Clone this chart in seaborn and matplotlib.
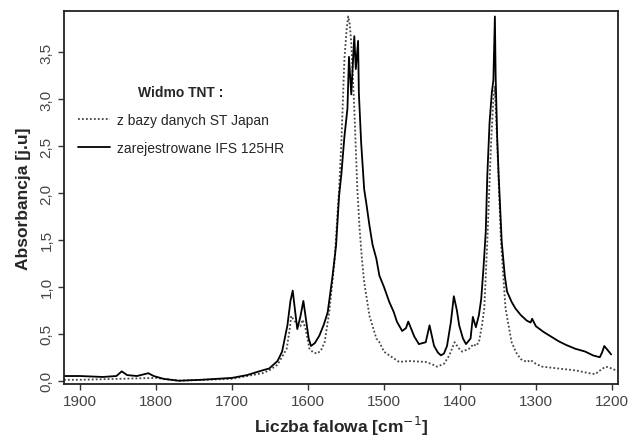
import pandas as pd
import numpy as np
from matplotlib import pyplot as plt
import seaborn as sns

# widmo zarejestrowane (IFS 125HR)
meas_x = [1921, 1900, 1870, 1852, 1845, 1838, 1825, 1815, 1810, 1803, 1790, 1770, 1740, 1700,
          1680, 1660, 1651, 1640, 1634, 1627, 1623, 1620, 1617, 1614, 1610, 1606, 1602, 1599,
          1596, 1591, 1585, 1579, 1574, 1568, 1563, 1559, 1556, 1552, 1548, 1546, 1543, 1539,
          1537, 1534, 1533, 1530, 1526, 1523, 1519, 1515, 1510, 1506, 1500, 1493, 1487, 1483,
          1476, 1471, 1468, 1464, 1460, 1454, 1445, 1440, 1434, 1429, 1425, 1421, 1417, 1412,
          1408, 1404, 1401, 1396, 1392, 1386, 1383, 1379, 1375, 1372, 1369, 1366, 1364, 1361,
          1358, 1356, 1354, 1353, 1351, 1349, 1345, 1341, 1338, 1332, 1327, 1320, 1312, 1307,
          1305, 1300, 1290, 1280, 1270, 1260, 1248, 1235, 1225, 1216, 1213, 1210, 1206, 1201]
meas_y = [0.05, 0.05, 0.04, 0.05, 0.10, 0.06, 0.05, 0.07, 0.08, 0.05, 0.02, 0.00, 0.01, 0.03,
          0.06, 0.11, 0.13, 0.21, 0.31, 0.59, 0.85, 0.96, 0.75, 0.55, 0.68, 0.85, 0.62, 0.45,
          0.37, 0.40, 0.48, 0.60, 0.73, 1.09, 1.44, 1.97, 2.20, 2.60, 2.90, 3.45, 3.05, 3.67,
          3.32, 3.62, 3.07, 2.54, 2.04, 1.88, 1.65, 1.45, 1.30, 1.12, 1.00, 0.84, 0.73, 0.63,
          0.53, 0.56, 0.63, 0.55, 0.47, 0.39, 0.41, 0.59, 0.37, 0.30, 0.27, 0.29, 0.37, 0.62,
          0.90, 0.75, 0.59, 0.45, 0.39, 0.45, 0.68, 0.57, 0.70, 0.87, 1.20, 1.59, 2.18, 2.75,
          3.07, 3.20, 3.88, 3.24, 2.60, 2.18, 1.48, 1.12, 0.95, 0.84, 0.77, 0.70, 0.64, 0.62,
          0.66, 0.58, 0.52, 0.47, 0.42, 0.38, 0.34, 0.31, 0.27, 0.25, 0.30, 0.37, 0.33, 0.28]

# widmo z bazy danych ST Japan
ref_x = [1921, 1900, 1850, 1800, 1770, 1700, 1660, 1651, 1640, 1628, 1624, 1622, 1618, 1614,
         1610, 1607, 1603, 1598, 1593, 1588, 1583, 1578, 1572, 1565, 1561, 1559, 1556, 1552,
         1549, 1547, 1545, 1543, 1539, 1535, 1532, 1529, 1526, 1519, 1510, 1506, 1500, 1493,
         1480, 1467, 1445, 1438, 1430, 1421, 1414, 1407, 1402, 1397, 1388, 1382, 1379, 1375,
         1371, 1368, 1364, 1359, 1356, 1354, 1351, 1346, 1340, 1332, 1326, 1320, 1312, 1307,
         1300, 1292, 1270, 1248, 1230, 1222, 1214, 1208, 1200, 1192]
ref_y = [0.01, 0.01, 0.02, 0.03, 0.00, 0.02, 0.08, 0.11, 0.17, 0.34, 0.55, 0.69, 0.64, 0.60,
         0.58, 0.65, 0.55, 0.34, 0.30, 0.29, 0.32, 0.41, 0.73, 1.27, 1.80, 2.04, 2.54, 3.43,
         3.75, 3.88, 3.80, 3.60, 2.90, 2.04, 1.62, 1.30, 1.05, 0.69, 0.45, 0.41, 0.31, 0.27,
         0.20, 0.21, 0.20, 0.18, 0.15, 0.18, 0.27, 0.41, 0.35, 0.31, 0.34, 0.39, 0.37, 0.41,
         0.59, 0.77, 1.48, 2.54, 3.00, 3.14, 2.54, 1.48, 0.77, 0.41, 0.30, 0.23, 0.20, 0.22,
         0.18, 0.15, 0.13, 0.11, 0.08, 0.07, 0.12, 0.15, 0.13, 0.10]

x_ticks = [1900, 1800, 1700, 1600, 1500, 1400, 1300, 1200]
y_ticks = [0.0, 0.5, 1.0, 1.5, 2.0, 2.5, 3.0, 3.5]

sns.set_style("ticks")
plt.rcParams['font.family'] = ['Liberation Sans', 'DejaVu Sans']

fig = plt.figure(figsize=(6.31, 4.39), dpi=100)
ax = fig.add_axes([0.1014, 0.123, 0.878, 0.850])

dfr = pd.DataFrame({'x': ref_x, 'y': ref_y})
dfm = pd.DataFrame({'x': meas_x, 'y': meas_y})
sns.lineplot(data=dfr, x='x', y='y', ax=ax, sort=False, color='#444444', lw=1.3,
             linestyle=(0, (1, 1.2)), label='z bazy danych ST Japan')
sns.lineplot(data=dfm, x='x', y='y', ax=ax, sort=False, color='black', lw=1.3,
             label='zarejestrowane IFS 125HR')

ax.set_xlim(1921, 1192)
ax.set_ylim(-0.035, 3.94)
ax.set_xticks(x_ticks)
ax.set_xticklabels([str(t) for t in x_ticks], fontsize=11, color='#444444')
ax.set_yticks(y_ticks)
ax.set_yticklabels([f'{t:.1f}'.replace('.', ',') for t in y_ticks], fontsize=11,
                   color='#444444', rotation=90, va='center')
ax.tick_params(length=4, width=1, color='#333333')
for s in ax.spines.values():
    s.set_linewidth(1.3)
    s.set_color('#222222')

ax.set_xlabel('Liczba falowa [cm$^{-1}$]', fontsize=12.5, fontweight='bold', labelpad=4)
ax.set_ylabel('Absorbancja [j.u]', fontsize=12.5, fontweight='bold', labelpad=6)

leg = ax.legend(loc='upper left', bbox_to_anchor=(0.015, 0.815), borderaxespad=0,
                frameon=False, fontsize=10, title='Widmo TNT :', handlelength=2.3,
                handletextpad=0.5, labelspacing=1.0)
leg.get_title().set_fontweight('bold')
leg.get_title().set_fontsize(10)

plt.savefig('out.png', dpi=100)
